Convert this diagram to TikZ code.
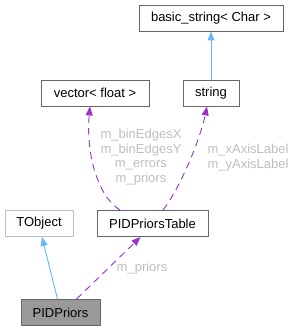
\documentclass[tikz,border=0pt]{standalone}
\usepackage{fontspec}
\setmainfont{Liberation Sans}
\usetikzlibrary{arrows.meta}
\definecolor{framegray}{HTML}{666666}
\definecolor{palegray}{HTML}{BFBFBF}
\definecolor{fillgray}{HTML}{999999}
\definecolor{inherit}{HTML}{63B8FF}
\definecolor{usage}{HTML}{9A32CD}
\definecolor{labelgray}{HTML}{BEBEBE}

\begin{document}
\begin{tikzpicture}[x=1pt,y=-1pt,>={Triangle[length=9pt,width=7pt]},
 box/.style={draw=framegray,line width=0.9pt,fill=white,inner sep=0pt,minimum height=26pt,font=\fontsize{13}{15}\selectfont},
 ext/.style={box,draw=palegray},
 cur/.style={box,fill=fillgray},
 inh/.style={->,draw=inherit,line width=0.9pt},
 dep/.style={->,draw=usage,line width=0.9pt,dash pattern=on 7pt off 5pt},
 lbl/.style={text=labelgray,align=center,inner sep=0pt,font=\fontsize{13}{14.5}\selectfont}]
\useasboundingbox (0,0) rectangle (295,331);
\node[box,minimum width=144pt] (bstr) at (211,18) {basic\_string< Char >};
\node[box,minimum width=108pt] (vec) at (95,93) {vector< float >};
\node[box,minimum width=56pt] (str) at (211,93) {string};
\node[ext,minimum width=68pt] (tobj) at (39,223.5) {TObject};
\node[box,minimum width=111pt] (tbl) at (152.5,223.5) {PIDPriorsTable};
\node[cur,minimum width=79pt] (pid) at (60.5,312.5) {PIDPriors};
\draw[inh] (str) -- (bstr);
\draw[inh] ([xshift=-3pt]pid.north) -- ([xshift=3pt]tobj.south);
\draw[dep] ([xshift=16pt]pid.north) -- ([xshift=-12pt]tbl.south);
\node[lbl] (lpri) at (142,268) {m\_priors};
\draw[dep] ([xshift=-32.5pt]tbl.north) .. controls (96,195) and (86,150) .. ([xshift=-5pt]vec.south);
\node[lbl] (lvec) at (141,157) {m\_binEdgesX\\m\_binEdgesY\\m\_errors\\m\_priors};
\draw[dep] ([xshift=10.5pt]tbl.north) .. controls (180,188) and (200,140) .. ([xshift=-4pt]str.south);
\node[lbl] (lstr) at (248,157.5) {m\_xAxisLabel\\m\_yAxisLabel};
\end{tikzpicture}
\end{document}
